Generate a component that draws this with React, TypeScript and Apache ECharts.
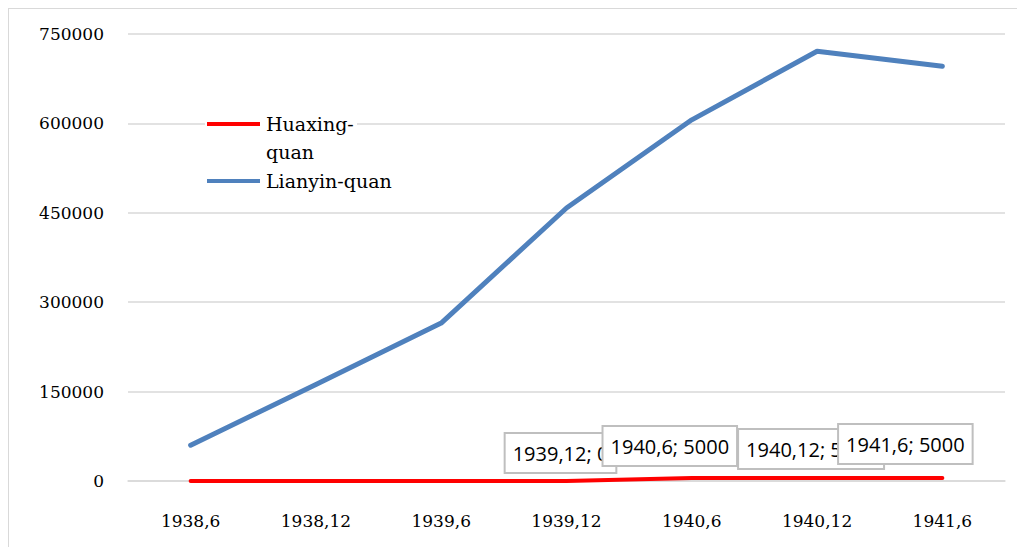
import React, { useEffect, useRef } from "react";
import * as echarts from "echarts";

const categories = ["1938,6", "1938,12", "1939,6", "1939,12", "1940,6", "1940,12", "1941,6"];
const huaxing = [0, 0, 0, 0, 5000, 5000, 5000];
const lianyin = [60000, 162000, 265000, 458000, 606000, 721000, 696000];
const labelShown = [false, false, false, true, true, true, true];
const labelOffsets: [number, number][] = [[0, 0], [0, 0], [0, 0], [-6, 0], [-22, -4], [-6, -1], [-37, -6]];
const yTicks = { min: 0, max: 750000, interval: 150000 };

const SERIF = "DejaVu Serif";

export default function App() {
  const ref = useRef<HTMLDivElement>(null);
  useEffect(() => {
    if (!ref.current) return;
    const chart = echarts.init(ref.current, undefined, { renderer: "svg" });
    chart.setOption({
      animation: false,
      grid: { left: 120, right: 20, top: 26, bottom: 66, containLabel: false },
      xAxis: {
        type: "category",
        data: categories,
        boundaryGap: true,
        axisLine: { show: true, lineStyle: { color: "#d9d9d9", width: 1.5 } },
        axisTick: { show: false },
        axisLabel: { fontFamily: SERIF, fontSize: 17, color: "#000", margin: 31 },
      },
      yAxis: {
        type: "value",
        min: yTicks.min,
        max: yTicks.max,
        interval: yTicks.interval,
        axisLine: { show: false },
        axisTick: { show: false },
        axisLabel: {
          fontFamily: SERIF,
          fontSize: 17,
          color: "#000",
          margin: 24,
          formatter: (v: number) => String(v),
        },
        splitLine: { lineStyle: { color: "#d9d9d9", width: 1.5 } },
      },
      series: [
        {
          name: "Lianyin-quan",
          type: "line",
          data: lianyin,
          symbol: "none",
          lineStyle: { color: "#4f81bd", width: 5, cap: "round", join: "round" },
          z: 2,
        },
        {
          name: "Huaxing-quan",
          type: "line",
          data: huaxing.map((v, i) => ({
            value: v,
            label: { show: labelShown[i] },
          })),
          symbol: "circle",
          symbolSize: 2,
          showSymbol: true,
          itemStyle: { color: "#ff0000" },
          lineStyle: { color: "#ff0000", width: 4, cap: "round", join: "round" },
          z: 3,
          label: {
            position: "top",
            distance: 8,
            formatter: (p: any) => `${p.name}; ${p.value}`,
            fontFamily: "Open Sans",
            fontSize: 20,
            lineHeight: 26,
            color: "#000",
            backgroundColor: "#fff",
            borderColor: "#bfbfbf",
            borderWidth: 2,
            padding: [6, 7, 6, 7],
          },
          labelLayout: (params: any) => ({
            hideOverlap: false,
            dx: labelOffsets[params.dataIndex][0],
            dy: labelOffsets[params.dataIndex][1],
          }),
        },
      ],
      graphic: [
        {
          type: "rect",
          shape: { x: 0, y: 0, width: 1100, height: 600 },
          style: { fill: "none", stroke: "#d9d9d9", lineWidth: 2 },
          silent: true,
        },
        {
          type: "rect",
          z: 10,
          shape: { x: 197, y: 102, width: 152, height: 86 },
          style: { fill: "#fff" },
          silent: true,
        },
        {
          type: "line",
          z: 11,
          shape: { x1: 199, y1: 116, x2: 252, y2: 116 },
          style: { stroke: "#ff0000", lineWidth: 4 },
        },
        {
          type: "text",
          z: 11,
          x: 258,
          y: 102,
          style: {
            text: "Huaxing-\nquan",
            fontFamily: SERIF,
            fontSize: 19,
            lineHeight: 28,
            fill: "#000",
            verticalAlign: "top",
          },
        },
        {
          type: "line",
          z: 11,
          shape: { x1: 199, y1: 173, x2: 252, y2: 173 },
          style: { stroke: "#4f81bd", lineWidth: 4 },
        },
        {
          type: "text",
          z: 11,
          x: 258,
          y: 173,
          style: {
            text: "Lianyin-quan",
            fontFamily: SERIF,
            fontSize: 19,
            fill: "#000",
            verticalAlign: "middle",
          },
        },
      ],
    });
    return () => chart.dispose();
  }, []);
  return <div ref={ref} style={{ width: 1017, height: 539 }} />;
}
